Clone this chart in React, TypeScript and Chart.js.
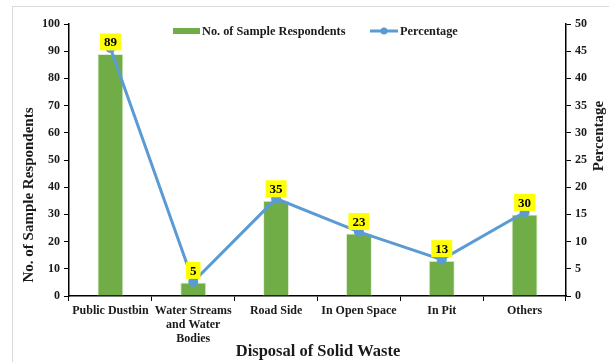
import React, { useEffect, useRef } from "react";
import { Chart, registerables } from "chart.js";

Chart.register(...registerables);

const categories: (string | string[])[] = [
  "Public Dustbin",
  ["Water Streams", "and Water", "Bodies"],
  "Road Side",
  "In Open Space",
  "In Pit",
  "Others",
];
const respondents = [89, 5, 35, 23, 13, 30];
const total = respondents.reduce((a, b) => a + b, 0);
const percentage = respondents.map((v) => +((v / total) * 100).toFixed(1));

const SERIF = '"Liberation Serif", "Times New Roman", serif';
const GREEN = "#70AD47";
const BLUE = "#5B9BD5";
const INK = "#1a1a1a";

// Frame, axis titles, in-plot legend and yellow value boxes above the bars
const decorations = {
  id: "decorations",
  beforeDraw(chart: any) {
    const ctx = chart.ctx;
    ctx.save();
    ctx.fillStyle = "#ffffff";
    ctx.fillRect(0, 0, chart.width, chart.height);
    ctx.strokeStyle = "#d9d9d9";
    ctx.lineWidth = 1;
    ctx.strokeRect(12.5, 6.5, chart.width + 20, chart.height + 20);
    ctx.restore();
  },
  afterDraw(chart: any) {
    const ctx = chart.ctx;
    const area = chart.chartArea;
    ctx.save();
    ctx.fillStyle = INK;
    ctx.textAlign = "center";
    ctx.textBaseline = "middle";
    ctx.font = `bold 16.5px ${SERIF}`;
    ctx.fillText("Disposal of Solid Waste", 318, 352);

    ctx.font = `bold 15px ${SERIF}`;
    ctx.save();
    ctx.translate(29, 195);
    ctx.rotate(-Math.PI / 2);
    ctx.fillText("No. of Sample Respondents", 0, 0);
    ctx.restore();
    ctx.save();
    ctx.translate(area.right + 33, 136);
    ctx.rotate(-Math.PI / 2);
    ctx.fillText("Percentage", 0, 0);
    ctx.restore();
    ctx.restore();
  },
  afterDatasetsDraw(chart: any) {
    const ctx = chart.ctx;
    ctx.save();
    // value boxes
    const meta = chart.getDatasetMeta(1);
    ctx.font = `bold 13px ${SERIF}`;
    ctx.textAlign = "center";
    ctx.textBaseline = "middle";
    meta.data.forEach((bar: any, i: number) => {
      const txt = String(respondents[i]);
      const w = ctx.measureText(txt).width + 8;
      const h = 17;
      const cx = bar.x;
      const cy = bar.y - 12;
      ctx.fillStyle = "#FFFF00";
      ctx.fillRect(cx - w / 2, cy - h / 2, w, h);
      ctx.fillStyle = "#000000";
      ctx.fillText(txt, cx, cy + 1);
    });
    // legend
    const ly = 31;
    ctx.font = `bold 12.3px ${SERIF}`;
    ctx.textAlign = "left";
    ctx.fillStyle = GREEN;
    ctx.fillRect(173, ly - 3, 27, 6);
    ctx.fillStyle = INK;
    ctx.fillText("No. of Sample Respondents", 202, ly + 1);
    ctx.strokeStyle = BLUE;
    ctx.lineWidth = 3;
    ctx.beginPath();
    ctx.moveTo(370, ly);
    ctx.lineTo(398, ly);
    ctx.stroke();
    ctx.fillStyle = BLUE;
    ctx.beginPath();
    ctx.arc(384, ly, 3.5, 0, Math.PI * 2);
    ctx.fill();
    ctx.fillStyle = INK;
    ctx.fillText("Percentage", 400, ly + 1);
    ctx.restore();
  },
};

export default function App() {
  const ref = useRef<HTMLCanvasElement>(null);
  useEffect(() => {
    if (!ref.current) return;
    const tickFont = { family: SERIF, size: 12, weight: "bold" as const };
    const chart = new Chart(ref.current, {
      data: {
        labels: categories,
        datasets: [
          {
            type: "line",
            label: "Percentage",
            data: percentage,
            yAxisID: "y1",
            borderColor: BLUE,
            backgroundColor: BLUE,
            borderWidth: 3,
            pointRadius: 5,
            pointBackgroundColor: BLUE,
            pointBorderWidth: 0,
            order: 0,
          },
          {
            type: "bar",
            label: "No. of Sample Respondents",
            data: respondents,
            yAxisID: "y",
            backgroundColor: GREEN,
            borderColor: "#e2efda",
            borderWidth: 1,
            barPercentage: 0.314,
            categoryPercentage: 1,
            order: 1,
          },
        ],
      },
      options: {
        responsive: false,
        animation: false,
        layout: { padding: { left: 0, right: 0, top: 24, bottom: 0 } },
        plugins: {
          legend: { display: false },
          tooltip: { enabled: false },
        },
        scales: {
          x: {
            offset: true,
            afterFit: (s: any) => {
              s.height = 66;
            },
            grid: {
              offset: true,
              drawOnChartArea: false,
              drawTicks: true,
              tickLength: 5,
              color: "#000",
            },
            border: { color: "#000", width: 1.5 },
            ticks: {
              color: INK,
              font: { ...tickFont, lineHeight: 1.17 },
              maxRotation: 0,
              autoSkip: false,
              padding: 3,
            },
          },
          y: {
            position: "left",
            min: 0,
            max: 100,
            afterFit: (s: any) => {
              s.width = 69;
            },
            ticks: { stepSize: 10, color: INK, font: tickFont, padding: 4 },
            grid: { drawOnChartArea: false, tickLength: 5, color: "#000" },
            border: { color: "#000", width: 1.5 },
          },
          y1: {
            position: "right",
            min: 0,
            max: 50,
            afterFit: (s: any) => {
              s.width = 43;
            },
            ticks: { stepSize: 5, color: INK, font: tickFont, padding: 4 },
            grid: { drawOnChartArea: false, tickLength: 5, color: "#000" },
            border: { color: "#000", width: 1.5 },
          },
        },
      },
      plugins: [decorations],
    } as any);
    return () => chart.destroy();
  }, []);
  return (
    <div style={{ position: "absolute", left: 0, top: 0, width: 609, height: 362 }}>
      <canvas ref={ref} width={609} height={362} />
    </div>
  );
}
